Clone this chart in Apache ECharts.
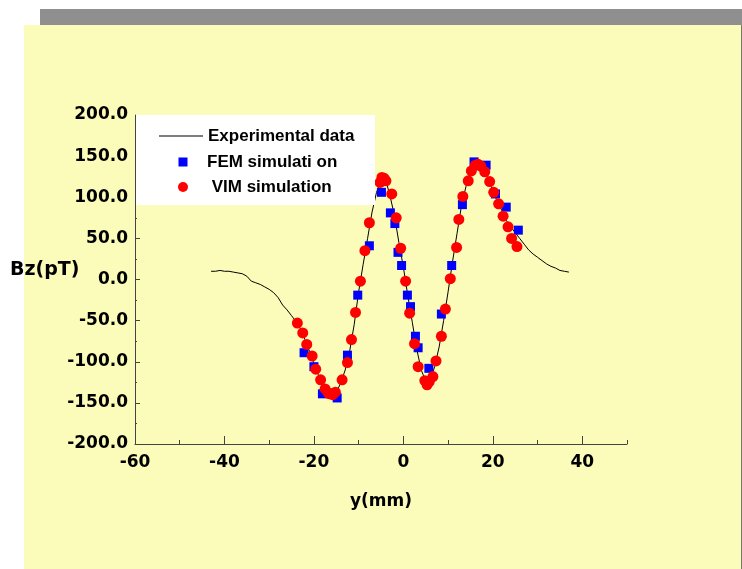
<!DOCTYPE html>
<html>
<head>
<meta charset="utf-8">
<script src="https://cdn.jsdelivr.net/npm/echarts@6/dist/echarts.min.js"></script>
<style>
html,body{margin:0;padding:0;background:#ffffff;}
#chart{width:742px;height:569px;}
</style>
</head>
<body>
<div id="chart"></div>
<script>
// Experimental data (y in mm, Bz in pT)
const expX = [-43,-42,-41,-40,-39,-38,-37,-36,-35,-34,-33,-32,-31,-30,-29,-28,-27,-26,-25,-24,-23,-22,-21,-20,-19,-18,-17,-16,-15,-14,-13,-12,-11,-10,-9,-8,-7,-6,-5,-4.5,-4,-3,-2,-1,0,1,2,3,4,5,5.5,6,7,8,9,10,11,12,13,14,15,16,16.5,17,18,19,20,21,22,23,24,25,26,27,28,29,30,31,32,33,34,35,36,37];
const expY = [10,10,11,10,10,9,8,7,4,-2,-4,-6,-9,-12,-16,-22,-31,-37,-44,-51,-60,-73,-87,-102,-116,-128,-136,-140,-137,-126,-110,-87,-55,-15,18,50,82,106,120,124,122,102,78,45,15,-20,-52,-85,-110,-124,-127,-122,-106,-82,-50,-15,22,56,90,113,132,140,141,140,133,122,108,95,84,72,64,57,50,43,36,31,27,23,19,16,14,11,10,9];

// FEM simulation
const femX = [-22.2,-20.0,-18.1,-14.8,-12.5,-10.2,-7.6,-4.9,-2.9,-1.9,-1.2,-0.4,0.9,1.6,2.7,3.3,5.7,8.5,10.8,13.2,15.8,18.5,20.6,23.0,25.7];
const femY = [-89,-106,-139,-144,-92,-19,41,106,81,68,33,17,-19,-33,-69,-83,-108,-42,17,91,143,139,104,88,60];

// VIM simulation
const vimX = [-23.7,-22.5,-21.6,-20.4,-19.6,-18.5,-17.5,-16.8,-16.4,-15.8,-15.2,-13.7,-12.5,-11.6,-10.7,-9.6,-8.6,-7.6,-5.2,-4.8,-4.3,-3.9,-2.6,-1.6,-0.6,0.5,1.4,2.5,3.3,4.8,5.3,5.8,6.6,7.3,8.5,9.4,10.5,11.9,12.4,13.3,14.5,15.2,16.1,16.7,17.3,18.2,19.3,20.2,21.3,22.3,23.4,24.2,25.4];
const vimY = [-53,-65,-79,-93,-109,-122,-133,-138,-139,-140,-137,-122,-101,-73,-40,-2,35,69,118,124,123,120,104,75,38,-2,-41,-78,-106,-123,-128,-124,-118,-99,-69,-36,1,39,73,101,120,132,139,140,138,131,119,106,92,77,64,50,40];

const xMajorTicks = [-60,-40,-20,0,20,40];
const xMinorTicks = [-50,-30,-10,10,30,50];

const seriesNames = ['Experimental data','FEM simulati on',' VIM simulation'];

const zip = (a,b) => a.map((v,i)=>[v,b[i]]);

const chart = echarts.init(document.getElementById('chart'));
const axisFont = {fontFamily:'DejaVu Sans', fontWeight:'bold', fontSize:17, color:'#000'};
const legendText = {fontFamily:'Liberation Sans', fontWeight:'bold', fontSize:17, color:'#000', lineHeight:18};

chart.setOption({
  animation:false,
  backgroundColor:'transparent',
  graphic:[
    {type:'rect', z:-100, shape:{x:40,y:9,width:702,height:16}, style:{fill:'#8f8f8f'}},
    {type:'rect', z:-100, shape:{x:24,y:25,width:717,height:544}, style:{fill:'#fcfcba'}},
    {type:'rect', z:-100, shape:{x:741,y:25,width:1,height:544}, style:{fill:'#777'}},
    {type:'rect', z:10, shape:{x:136,y:115,width:239,height:90}, style:{fill:'#ffffff'}},
    {type:'text', z:10, left:10, top:261, style:{text:'Bz(pT)', fontFamily:'DejaVu Sans', fontWeight:'bold', fontSize:19, fill:'#000'}}
  ],
  grid:{left:135, right:115, top:115, bottom:125},
  xAxis:[{
    type:'value', min:-60, max:50, interval:20,
    name:'y(mm)', nameLocation:'middle', nameGap:49,
    nameTextStyle:axisFont,
    axisLine:{show:true, onZero:false, lineStyle:{color:'#444', width:1}},
    axisTick:{show:true, inside:true, length:8, customValues:xMajorTicks, lineStyle:{color:'#444'}},
    axisLabel:{show:true, margin:10, customValues:xMajorTicks, ...axisFont},
    splitLine:{show:false}
  },{
    type:'value', min:-60, max:50, position:'bottom', gridIndex:0,
    axisLine:{show:false, onZero:false},
    axisTick:{show:true, inside:true, length:4, customValues:xMinorTicks, lineStyle:{color:'#444'}},
    axisLabel:{show:false},
    splitLine:{show:false}
  }],
  yAxis:{
    type:'value', min:-200, max:200, interval:50,
    axisLine:{show:true, onZero:false, lineStyle:{color:'#444', width:1}},
    axisTick:{show:true, inside:true, length:5, lineStyle:{color:'#444'}},
    minorTick:{show:true, splitNumber:2, length:2, lineStyle:{color:'#444'}},
    axisLabel:{show:true, margin:7, formatter:v=>v.toFixed(1), ...axisFont},
    splitLine:{show:false}
  },
  legend:[
    {data:[{name:seriesNames[0], icon:'path://M0,0h44v1.2h-44z'}], left:159, top:127, padding:0, itemWidth:44, itemHeight:14, z:20, textStyle:legendText, itemGap:0},
    {data:[{name:seriesNames[1], icon:'path://M0,0h9v9h-9z'}], left:178.5, top:153, padding:0, itemWidth:9, itemHeight:9, z:20, textStyle:{...legendText, padding:[0,0,0,14.5]}, itemGap:0},
    {data:[{name:seriesNames[2], icon:'circle'}], left:178, top:178, padding:0, itemWidth:10, itemHeight:10, z:20, textStyle:{...legendText, padding:[0,0,0,14]}, itemGap:0}
  ],
  series:[
    {name:seriesNames[0], type:'line', data:zip(expX,expY), symbol:'none', showSymbol:false,
     lineStyle:{color:'#000', width:1}, itemStyle:{color:'#000'}, z:2},
    {name:seriesNames[1], type:'scatter', data:zip(femX,femY), symbol:'rect', symbolSize:9,
     itemStyle:{color:'#0000ff', opacity:1}, z:3},
    {name:seriesNames[2], type:'scatter', data:zip(vimX,vimY), symbol:'circle', symbolSize:11,
     itemStyle:{color:'#ff0000', opacity:1}, z:4}
  ]
});
</script>
</body>
</html>
